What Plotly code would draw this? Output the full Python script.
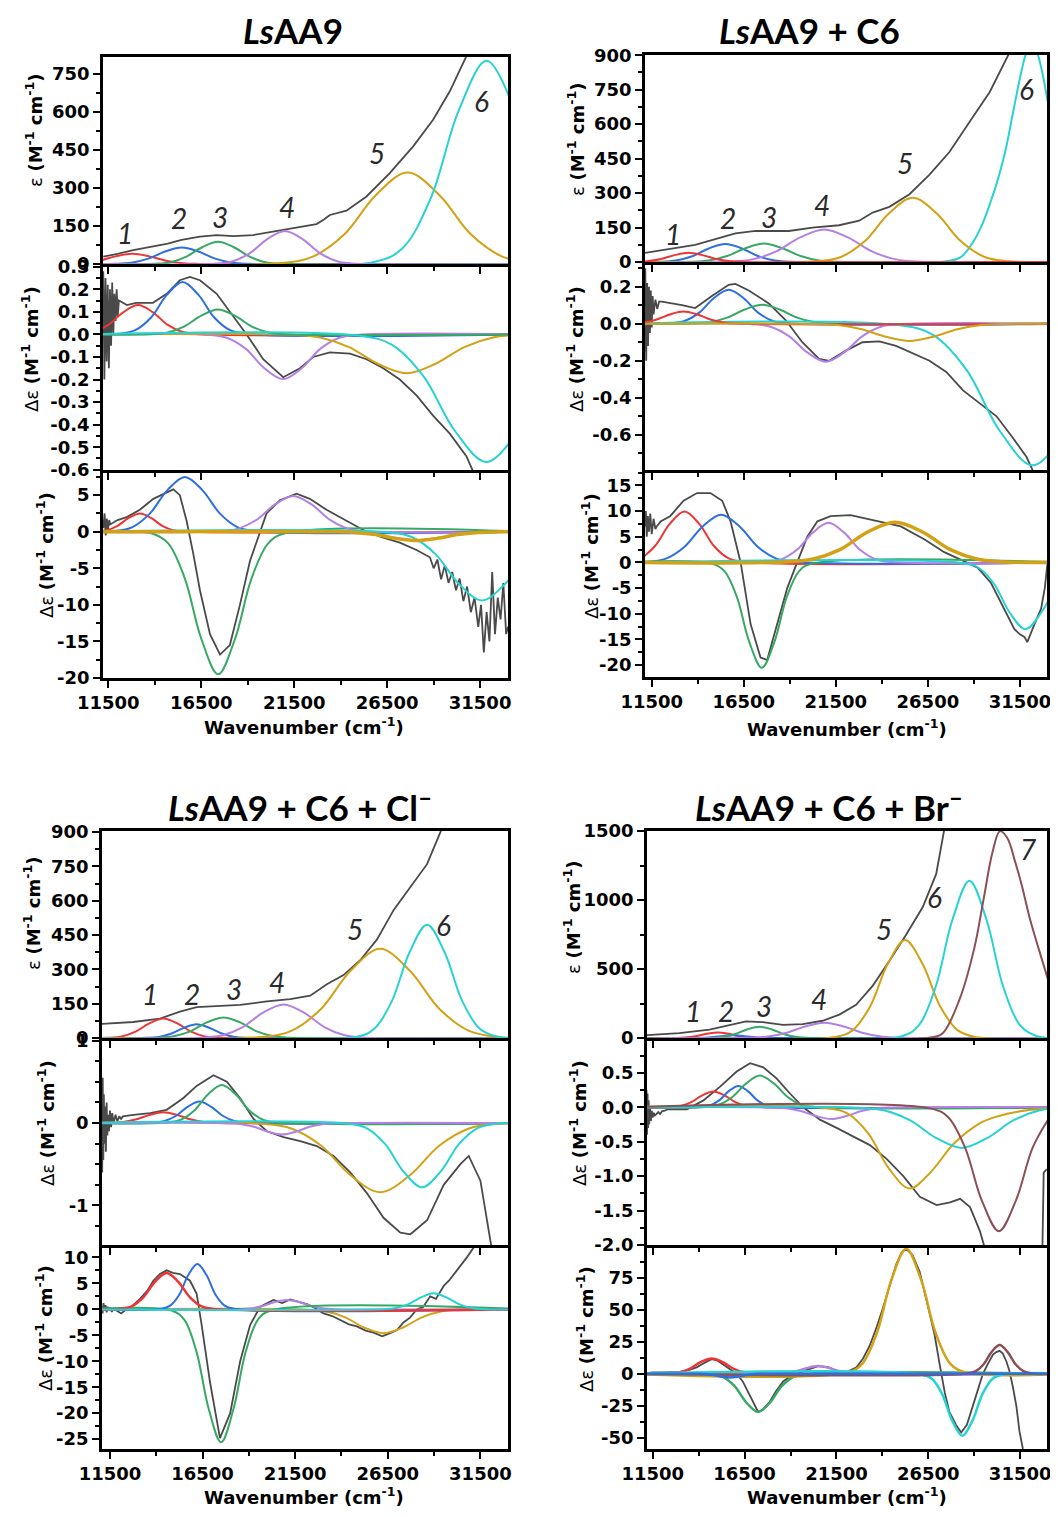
import plotly.graph_objects as go

W, H = 1058, 1517

# ---------------- LsAA9 (panel a) ----------------
# absorption, epsilon
a1_exp_x = [11230, 12000, 12840, 13900, 14700, 15440, 16430, 17330, 18220, 19300, 20200, 21000, 22000, 22700, 23100, 23420, 24310, 25390, 26640, 27900, 28970, 29870, 30760, 31500]
a1_exp_y = [29, 40, 55, 68, 80, 95, 108, 114, 110, 114, 125, 137, 147, 157, 175, 193, 210, 266, 358, 463, 568, 680, 818, 920]
a1_red_x = [9200, 10100, 11000, 11900, 12800, 13700, 14600, 15500, 16400, 34000]
a1_red_y = [0.4, 3.2, 13, 30, 40, 30, 13, 3.2, 0.4, 0]
a1_blue_x = [10000, 11850, 12750, 13650, 14550, 15450, 16350, 17250, 18150, 19050, 34000]
a1_blue_y = [0, 0.7, 5.2, 21, 49, 65, 49, 21, 5.2, 0.7, 0]
a1_green_x = [10000, 14000, 14850, 15700, 16550, 17400, 18250, 19100, 19950, 20800, 34000]
a1_green_y = [0, 1, 7, 29, 66, 88, 66, 29, 7, 1, 0]
a1_purple_x = [10000, 17200, 18150, 19100, 20050, 21000, 21950, 22900, 23850, 24800, 34000]
a1_purple_y = [0, 1.4, 10, 42, 98, 130, 98, 42, 10, 1.4, 0]
a1_gold_x = [10000, 20800, 22500, 24200, 25900, 27600, 29300, 31000, 32700, 34400]
a1_gold_y = [0, 4, 29, 117, 272, 360, 272, 117, 29, 4]
a1_cyan_x = [10000, 25850, 27350, 28850, 30350, 31850, 33350]
a1_cyan_y = [0, 9, 64, 260, 604, 800, 604]
a1_lab_x = [12400, 15300, 17500, 21090, 25930, 31570]
a1_lab_y = [121, 180, 187, 226, 437, 641]
a1_yticks = [0, 150, 300, 450, 600, 750]

# CD
a2_exp_x = [11230, 11290, 11350, 11410, 11470, 11530, 11590, 11650, 11710, 11770, 11830, 11890, 11950, 12010, 12070,
            12500, 13000, 13900, 14640, 15350, 15890, 16430, 17330, 18220, 18940, 19830, 20910, 21810, 22520, 23420,
            24500, 25390, 26290, 27180, 28080, 28970, 29870, 30760, 31120, 31300]
a2_exp_y = [0.28, -0.2, 0.25, -0.12, 0.22, -0.15, 0.2, -0.05, 0.23, 0.0, 0.18, 0.06, 0.2, 0.08, 0.15,
            0.13, 0.14, 0.14, 0.18, 0.24, 0.255, 0.24, 0.18, 0.08, 0.0, -0.11, -0.19, -0.15, -0.1, -0.08,
            -0.085, -0.11, -0.15, -0.2, -0.27, -0.36, -0.44, -0.54, -0.6, -0.64]
a2_red_x = [9900, 10700, 11500, 12300, 13100, 13900, 14700, 15500, 16300, 34000]
a2_red_y = [0.0014, 0.0104, 0.042, 0.098, 0.13, 0.098, 0.042, 0.0104, 0.0014, 0]
a2_blue_x = [10000, 12100, 12950, 13800, 14650, 15500, 16350, 17200, 18050, 18900, 34000]
a2_blue_y = [0, 0.0026, 0.0186, 0.075, 0.175, 0.232, 0.175, 0.075, 0.0186, 0.0026, 0]
a2_green_x = [10000, 13800, 14700, 15600, 16500, 17400, 18300, 19200, 20100, 21000, 34000]
a2_green_y = [0, 0.0012, 0.0088, 0.036, 0.083, 0.11, 0.083, 0.036, 0.0088, 0.0012, 0]
a2_purple_x = [10000, 16900, 17900, 18900, 19900, 20900, 21900, 22900, 23900, 24900, 34000]
a2_purple_y = [0, -0.0022, -0.016, -0.064, -0.15, -0.198, -0.15, -0.064, -0.016, -0.0022, 0]
a2_gold_x = [10000, 21350, 22900, 24450, 26000, 27550, 29100, 30650, 32200, 33750]
a2_gold_y = [0, -0.0019, -0.0138, -0.056, -0.13, -0.172, -0.13, -0.056, -0.0138, -0.0019]
a2_cyan_x = [10000, 25040, 26740, 28440, 30140, 31840, 33540]
a2_cyan_y = [0, -0.0062, -0.045, -0.184, -0.427, -0.565, -0.427]
a2_yticks = [-0.6, -0.5, -0.4, -0.3, -0.2, -0.1, 0.0, 0.1, 0.2, 0.3]

# MCD
a3_exp_x = [11230, 11300, 11360, 11420, 11480, 11550, 11600, 12000, 12490, 13200, 13920, 14640, 15000, 15350, 15710,
            16070, 16430, 16970, 17510, 18040, 18580, 19120, 19650, 20010, 20730, 21630, 22340, 23240, 24310, 25390,
            26290, 27180, 28080, 28800, 29000, 29200, 29400, 29600, 29800, 30000, 30200, 30400, 30600, 30800, 31000,
            31200, 31400, 31550, 31700, 31850, 32000, 32150, 32300, 32450, 32600, 32750, 32900, 33000]
a3_exp_y = [0.5, 2.5, -0.5, 1.8, 0.3, 1.6, 1.0, 1.6, 2.0, 3.0, 4.5, 5.3, 5.8, 5.0, 1.5,
            -3, -8, -14, -16.8, -15.5, -10, -4, 0, 2.5, 4.3, 5.2, 4.5, 3.0, 1.5, 0,
            -0.8, -1.5, -2.5, -3.5, -5, -3.8, -6.5, -4.6, -7, -5.5, -8, -6.4, -9.5, -7.5, -11,
            -9, -13, -10, -16.5, -11, -15, -5.5, -14, -9, -12, -7, -14, -13]
a3_red_x = [10800, 11400, 12000, 12600, 13200, 13800, 14400, 15000, 15600, 34000]
a3_red_y = [0.03, 0.2, 0.81, 1.89, 2.5, 1.89, 0.81, 0.2, 0.03, 0]
a3_blue_x = [10000, 11820, 12770, 13720, 14670, 15620, 16570, 17520, 18470, 19420, 34000]
a3_blue_y = [0, 0.08, 0.6, 2.44, 5.66, 7.5, 5.66, 2.44, 0.6, 0.08, 0]
a3_green_x = [10000, 13810, 14710, 15610, 16510, 17410, 18310, 19210, 20110, 21010, 34000]
a3_green_y = [0, -0.21, -1.56, -6.34, -14.7, -19.5, -14.7, -6.34, -1.56, -0.21, 0]
a3_purple_x = [10000, 17450, 18450, 19450, 20450, 21450, 22450, 23450, 24450, 25450, 34000]
a3_purple_y = [0, 0.05, 0.39, 1.59, 3.7, 4.9, 3.7, 1.59, 0.39, 0.05, 0]
a3_cyan_x = [10000, 26600, 27850, 29100, 30350, 31600, 32850, 34100]
a3_cyan_y = [0, -0.1, -0.75, -3.06, -7.1, -9.4, -7.1, -3.06]
a3_gold_x = [10000, 23680, 24780, 25880, 26980, 28080, 29180, 30280, 31380, 32480, 34000]
a3_gold_y = [0, -0.013, -0.1, -0.39, -0.91, -1.2, -0.91, -0.39, -0.1, -0.013, 0]
a3_yticks = [-20, -15, -10, -5, 0, 5]

# ---------------- LsAA9 + C6 (panel b) ----------------
b1_exp_x = [11140, 12410, 13860, 14950, 16050, 17140, 18950, 20230, 21680, 22770, 23500, 24410, 25500, 26590, 27680, 28770, 29860, 30860, 31500]
b1_exp_y = [40, 55, 75, 100, 125, 135, 135, 150, 160, 180, 215, 240, 295, 380, 480, 610, 740, 900, 1000]
b1_red_x = [10500, 11250, 12000, 12750, 13500, 14250, 15000, 15750, 16500, 34000]
b1_red_y = [0.4, 3.2, 13, 30, 40, 30, 13, 3.2, 0.4, 0]
b1_blue_x = [10000, 11900, 12800, 13700, 14600, 15500, 16400, 17300, 18200, 19100, 34000]
b1_blue_y = [0, 0.9, 6.2, 25, 59, 78, 59, 25, 6.2, 0.9, 0]
b1_green_x = [10000, 13590, 14590, 15590, 16590, 17590, 18590, 19590, 20590, 21590, 34000]
b1_green_y = [0, 0.9, 6.4, 26, 60, 80, 60, 26, 6.4, 0.9, 0]
b1_purple_x = [10000, 15660, 16960, 18260, 19560, 20860, 22160, 23460, 24760, 26060, 34000]
b1_purple_y = [0, 1.6, 11.4, 46, 107, 142, 107, 46, 11.4, 1.6, 0]
b1_gold_x = [10000, 20480, 21780, 23080, 24380, 25680, 26980, 28280, 29580, 30880, 34000]
b1_gold_y = [0, 3.1, 22, 91, 211, 280, 211, 91, 22, 3.1, 0]
b1_cyan_x = [10000, 27500, 28300, 28900, 29400, 29900, 30300, 30700, 31100, 31500, 31800, 32100, 32400, 32700, 33000]
b1_cyan_y = [0, 3, 22, 80, 154, 260, 359, 480, 640, 800, 900, 960, 920, 830, 700]
b1_lab_x = [12680, 15650, 17860, 20770, 25230, 31860]
b1_lab_y = [124, 190, 198, 249, 432, 754]
b1_yticks = [0, 150, 300, 450, 600, 750, 900]

b2_exp_x = [11050, 11100, 11150, 11200, 11250, 11300, 11350, 11400, 11450, 11500, 11550, 11600, 11700, 11800, 11900, 12050,
            13140, 13860, 14770, 15680, 16050, 16770, 17860, 18770, 19680, 20590, 21140, 22050, 22950, 23860, 24770,
            25680, 26590, 27500, 28410, 29320, 30230, 31140, 31860, 32230]
b2_exp_y = [0.28, -0.15, 0.3, -0.2, 0.22, -0.12, 0.2, -0.05, 0.18, -0.02, 0.15, 0.05, 0.13, 0.08, 0.12, 0.12,
            0.1, 0.085, 0.15, 0.21, 0.215, 0.18, 0.11, 0.02, -0.1, -0.19, -0.2, -0.145, -0.1, -0.095, -0.12,
            -0.16, -0.2, -0.26, -0.36, -0.43, -0.5, -0.62, -0.72, -0.8]
b2_red_x = [10230, 10980, 11730, 12480, 13230, 13980, 14730, 15480, 16230, 34000]
b2_red_y = [0.0007, 0.0053, 0.0215, 0.05, 0.066, 0.05, 0.0215, 0.0053, 0.0007, 0]
b2_blue_x = [10000, 12480, 13280, 14080, 14880, 15680, 16480, 17280, 18080, 18880, 34000]
b2_blue_y = [0, 0.002, 0.0147, 0.06, 0.139, 0.184, 0.139, 0.06, 0.0147, 0.002, 0]
b2_green_x = [10000, 13700, 14650, 15600, 16550, 17500, 18450, 19400, 20350, 21300, 34000]
b2_green_y = [0, 0.0011, 0.0082, 0.033, 0.077, 0.102, 0.077, 0.033, 0.0082, 0.0011, 0]
b2_purple_x = [10000, 16950, 17950, 18950, 19950, 20950, 21950, 22950, 23950, 24950, 34000]
b2_purple_y = [0, -0.0023, -0.0164, -0.067, -0.155, -0.205, -0.155, -0.067, -0.0164, -0.0023, 0]
b2_cyan_x = [10000, 25000, 26800, 28600, 30400, 32200, 34000]
b2_cyan_y = [0, -0.0084, -0.061, -0.249, -0.578, -0.765, -0.578]
b2_gold_x = [10000, 20300, 21600, 22900, 24200, 25500, 26800, 28100, 29400, 30700, 34000]
b2_gold_y = [0, -0.001, -0.0074, -0.03, -0.07, -0.093, -0.07, -0.03, -0.0074, -0.001, 0]
b2_yticks = [-0.6, -0.4, -0.2, 0.0, 0.2]

b3_exp_x = [11130, 11180, 11230, 11290, 11350, 11420, 11500, 11600, 11700, 11770, 12000, 12500, 13230, 13960, 14690,
            15330, 15780, 16330, 16870, 17410, 17770, 18310, 18860, 19400, 19950, 20500, 21220, 22300, 23390, 24480,
            25030, 26300, 27390, 28480, 29200, 29930, 30660, 31200, 31500, 31740, 31900, 32100, 32290, 32650, 32850, 33000]
b3_exp_y = [7, 10, 5, 9, 6, 9.5, 5.5, 8.5, 6.5, 7, 8, 9, 12, 13.5, 13.5,
            12, 8, 0, -12, -18.5, -19, -12, -5, 0, 5, 8, 9, 9.2, 8.3, 7.5,
            7, 4.5, 2, 0.2, -1, -4, -9, -13, -14, -14.5, -15.5, -13.5, -12, -9, -5, 0]
b3_red_x = [10080, 10880, 11680, 12480, 13280, 14080, 14880, 15680, 16480, 34000]
b3_red_y = [0.11, 0.79, 3.2, 7.5, 9.9, 7.5, 3.2, 0.79, 0.11, 0]
b3_blue_x = [10000, 11270, 12270, 13270, 14270, 15270, 16270, 17270, 18270, 19270, 34000]
b3_blue_y = [0, 0.1, 0.74, 3.0, 7.0, 9.3, 7.0, 3.0, 0.74, 0.1, 0]
b3_green_x = [10000, 14760, 15440, 16120, 16800, 17480, 18160, 18840, 19520, 20200, 34000]
b3_green_y = [0, -0.23, -1.64, -6.66, -15.5, -20.5, -15.5, -6.66, -1.64, -0.23, 0]
b3_purple_x = [10000, 17700, 18550, 19400, 20250, 21100, 21950, 22800, 23650, 24500, 34000]
b3_purple_y = [0, 0.08, 0.62, 2.5, 5.8, 7.7, 5.8, 2.5, 0.62, 0.08, 0]
b3_cyan_x = [10000, 28400, 29250, 30100, 30950, 31800, 32650, 33500]
b3_cyan_y = [0, -0.14, -1.04, -4.2, -9.8, -13, -9.8, -4.2]
b3_gold_x = [10000, 18720, 20220, 21720, 23220, 24720, 26220, 27720, 29220, 30720, 34000]
b3_gold_y = [0, 0.09, 0.62, 2.5, 5.9, 7.8, 5.9, 2.5, 0.62, 0.09, 0]
b3_yticks = [-20, -15, -10, -5, 0, 5, 10, 15]

# ---------------- LsAA9 + C6 + Cl- (panel c) ----------------
c1_exp_x = [11050, 12760, 14200, 15280, 16180, 17270, 18530, 19970, 21230, 22310, 23210, 24110, 25010, 25910, 26820, 27720, 28620, 29340, 29800]
c1_exp_y = [62, 70, 85, 115, 135, 140, 145, 160, 170, 185, 235, 275, 340, 430, 560, 660, 760, 900, 980]
c1_red_x = [10000, 11380, 12130, 12880, 13630, 14380, 15130, 15880, 16630, 17380, 34000]
c1_red_y = [0, 0.9, 6.8, 28, 64, 85, 64, 28, 6.8, 0.9, 0]
c1_blue_x = [10000, 13460, 14140, 14820, 15500, 16180, 16860, 17540, 18220, 18900, 34000]
c1_blue_y = [0, 0.66, 4.8, 19.5, 45, 60, 45, 19.5, 4.8, 0.66, 0]
c1_green_x = [10000, 14030, 14930, 15830, 16730, 17630, 18530, 19430, 20330, 21230, 34000]
c1_green_y = [0, 1, 7.2, 29, 68, 90, 68, 29, 7.2, 1, 0]
c1_purple_x = [10000, 16470, 17570, 18670, 19770, 20870, 21970, 23070, 24170, 25270, 34000]
c1_purple_y = [0, 1.6, 11.8, 48, 111, 147, 111, 48, 11.8, 1.6, 0]
c1_gold_x = [10000, 19690, 21290, 22890, 24490, 26090, 27690, 29290, 30890, 32490, 34000]
c1_gold_y = [0, 4.3, 31, 127, 294, 390, 294, 127, 31, 4.3, 0]
c1_cyan_x = [10000, 24820, 25770, 26720, 27670, 28620, 29570, 30520, 31470, 32420, 34000]
c1_cyan_y = [0, 5.4, 40, 161, 374, 495, 374, 161, 40, 5.4, 0]
c1_lab_x = [13660, 15910, 18170, 20510, 24740, 29520]
c1_lab_y = [191, 191, 213, 243, 478, 493]
c1_yticks = [0, 150, 300, 450, 600, 750, 900]

c2_exp_x = [11050, 11080, 11110, 11140, 11170, 11200, 11240, 11280, 11320, 11360, 11400, 11450, 11500, 11560, 11620,
            11700, 11800, 11900, 12000, 12100, 12200, 12400, 12760, 13660, 14560, 15450, 16180, 17090, 17810, 18530,
            19250, 19970, 20870, 21770, 22670, 23570, 24470, 25370, 26270, 27180, 27720, 28620, 29520, 30420, 30870,
            31500, 31860, 32130]
c2_exp_y = [0.1, -0.6, 0.55, -0.45, 0.35, -0.25, 0.2, -0.35, 0.25, -0.15, 0.1, -0.1, 0.15, -0.05, 0.12,
            0.0, 0.1, 0.02, 0.08, 0.05, 0.08, 0.09, 0.1, 0.12, 0.16, 0.3, 0.45, 0.58, 0.5, 0.3,
            0.05, -0.1, -0.17, -0.22, -0.28, -0.4, -0.6, -0.85, -1.15, -1.33, -1.35, -1.18, -0.75, -0.5, -0.4,
            -0.7, -1.2, -1.55]
c2_red_x = [10000, 11380, 12130, 12880, 13630, 14380, 15130, 15880, 16630, 17380, 34000]
c2_red_y = [0, 0.0014, 0.0104, 0.042, 0.098, 0.13, 0.098, 0.042, 0.0104, 0.0014, 0]
c2_blue_x = [10000, 13770, 14410, 15050, 15690, 16330, 16970, 17610, 18250, 18890, 34000]
c2_blue_y = [0, 0.0029, 0.021, 0.085, 0.196, 0.26, 0.196, 0.085, 0.021, 0.0029, 0]
c2_green_x = [10000, 14540, 15290, 16040, 16790, 17540, 18290, 19040, 19790, 20540, 34000]
c2_green_y = [0, 0.005, 0.037, 0.15, 0.347, 0.46, 0.347, 0.15, 0.037, 0.005, 0]
c2_gold_x = [10000, 19690, 21290, 22890, 24490, 26090, 27690, 29290, 30890, 32490, 34000]
c2_gold_y = [0, -0.009, -0.067, -0.273, -0.634, -0.84, -0.634, -0.273, -0.067, -0.009, 0]
c2_purple_x = [10000, 17780, 18530, 19280, 20030, 20780, 21530, 22280, 23030, 23780, 34000]
c2_purple_y = [0, -0.0015, -0.011, -0.046, -0.106, -0.14, -0.106, -0.046, -0.011, -0.0015, 0]
c2_cyan_x = [10000, 24350, 25350, 26350, 27350, 28350, 29350, 30350, 31350, 32350, 34000]
c2_cyan_y = [0, -0.0086, -0.062, -0.254, -0.589, -0.78, -0.589, -0.254, -0.062, -0.0086, 0]
c2_yticks = [-1, 0, 1]

c3_exp_x = [11050, 11100, 11150, 11200, 11260, 11320, 11380, 11450, 11520, 11600, 11700, 11860, 12100, 12400, 12700,
            13120, 13500, 13840, 14200, 14560, 14900, 15280, 15550, 15820, 16180, 16450, 16900, 17440, 17990, 18530,
            19070, 19610, 20330, 20800, 21230, 21700, 22130, 22600, 23030, 23500, 23930, 24400, 24830, 25300, 25730,
            26200, 26630, 27000, 27360, 27700, 28070, 28400, 28790, 29100, 29520, 29800, 30230, 30500, 30770, 31140]
c3_exp_y = [0.5, -0.8, 1.2, -0.3, 0.8, -0.6, 0.5, -0.2, 0.3, -0.5, 0.1, -0.3, -0.8, 0, 0.6,
            2, 3.5, 5.5, 6.8, 7.5, 7.0, 6.8, 6.2, 5.5, 3, -3, -14, -24.8, -20, -10,
            -3, 0.5, 1.8, 1.2, 1.9, 1.4, 1.0, 0.2, -0.8, -1.3, -2, -2.9, -3.3, -4.1, -4.5,
            -5.2, -4.6, -4, -2.5, -1.6, 0, 0.4, 2.5, 2, 4.5, 5.5, 7.5, 8.7, 10, 11.9]
c3_red_x = [10000, 12040, 12670, 13300, 13930, 14560, 15190, 15820, 16450, 17080, 34000]
c3_red_y = [0, 0.08, 0.56, 2.3, 5.3, 7.0, 5.3, 2.3, 0.56, 0.08, 0]
c3_blue_x = [10000, 14260, 14750, 15240, 15730, 16220, 16710, 17200, 17690, 18180, 34000]
c3_blue_y = [0, 0.1, 0.7, 2.8, 6.6, 8.7, 6.6, 2.8, 0.7, 0.1, 0]
c3_green_x = [10000, 14860, 15520, 16180, 16840, 17500, 18160, 18820, 19480, 20140, 34000]
c3_green_y = [0, -0.28, -2.05, -8.3, -19.3, -25.6, -19.3, -8.3, -2.05, -0.28, 0]
c3_purple_x = [10000, 18330, 19010, 19690, 20370, 21050, 21730, 22410, 23090, 23770, 34000]
c3_purple_y = [0, 0.02, 0.14, 0.59, 1.36, 1.8, 1.36, 0.59, 0.14, 0.02, 0]
c3_gold_x = [10000, 22070, 23120, 24170, 25220, 26270, 27320, 28370, 29420, 30470, 34000]
c3_gold_y = [0, -0.05, -0.37, -1.5, -3.5, -4.6, -3.5, -1.5, -0.37, -0.05, 0]
c3_cyan_x = [10000, 26260, 26940, 27620, 28300, 28980, 29660, 30340, 31020, 31700, 34000]
c3_cyan_y = [0, 0.03, 0.25, 1.0, 2.3, 3.1, 2.3, 1.0, 0.25, 0.03, 0]
c3_yticks = [-25, -20, -15, -10, -5, 0, 5, 10]

# ---------------- LsAA9 + C6 + Br- (panel d) ----------------
d1_exp_x = [11140, 12950, 14590, 15680, 16580, 17490, 18580, 19670, 20750, 21660, 22570, 23480, 24390, 25300, 26200, 26930, 27380]
d1_exp_y = [20, 35, 60, 95, 120, 115, 95, 100, 125, 170, 240, 380, 560, 750, 950, 1190, 1520]
d1_red_x = [10000, 12640, 13240, 13840, 14440, 15040, 15640, 16240, 16840, 17440, 34000]
d1_red_y = [0, 0.44, 3.2, 13, 30, 40, 30, 13, 3.2, 0.44, 0]
d1_blue_x = [10000, 13780, 14300, 14820, 15340, 15860, 16380, 16900, 17420, 17940, 34000]
d1_blue_y = [0, 0.22, 1.6, 6.5, 15, 20, 15, 6.5, 1.6, 0.22, 0]
d1_green_x = [10000, 14590, 15270, 15950, 16630, 17310, 17990, 18670, 19350, 20030, 34000]
d1_green_y = [0, 0.9, 6.6, 27, 62, 82, 62, 27, 6.6, 0.9, 0]
d1_purple_x = [10000, 16650, 17700, 18750, 19800, 20850, 21900, 22950, 24000, 25050, 34000]
d1_purple_y = [0, 1.2, 8.8, 36, 83, 110, 83, 36, 8.8, 1.2, 0]
d1_gold_x = [10000, 21440, 22390, 23340, 24290, 25240, 26190, 27140, 28090, 29040, 34000]
d1_gold_y = [0, 7.8, 57, 231, 536, 710, 536, 231, 57, 7.8, 0]
d1_cyan_x = [10000, 25060, 25980, 26900, 27820, 28740, 29660, 30580, 31500, 32420, 34000]
d1_cyan_y = [0, 12.5, 91, 370, 861, 1140, 861, 370, 91, 12.5, 0]
d1_brown_x = [10000, 26700, 27300, 28200, 29000, 29500, 30000, 30400, 30800, 31200, 31600, 32000, 32500, 33000]
d1_brown_y = [0, 5, 37, 280, 650, 1000, 1350, 1500, 1450, 1290, 1100, 880, 650, 430]
d1_lab_x = [13680, 15500, 17580, 20570, 24110, 26830, 31920]
d1_lab_y = [197, 197, 234, 283, 788, 1022, 1367]
d1_yticks = [0, 500, 1000, 1500]

d2_exp_x = [11100, 11130, 11160, 11190, 11220, 11250, 11280, 11310, 11350, 11400, 11450, 11500, 11560, 11620, 11700,
            11800, 11900, 12000, 12150, 12300, 13360, 14260, 15170, 16070, 16800, 17520, 18240, 18970, 19690, 20600,
            21510, 22420, 23320, 24230, 25140, 26040, 26950, 27680, 28230, 28770, 29310, 29580, 32650, 32780, 32950]
d2_exp_y = [-0.15, -0.35, 0.25, -0.4, 0.2, -0.3, 0.1, -0.25, 0.0, -0.2, -0.05, -0.15, -0.08, -0.12, -0.1,
            -0.07, -0.1, -0.06, -0.05, -0.03, -0.03, 0.1, 0.3, 0.52, 0.64, 0.58, 0.42, 0.2, 0.0, -0.18,
            -0.3, -0.42, -0.55, -0.75, -1.0, -1.3, -1.42, -1.38, -1.33, -1.45, -1.8, -2.05, -3, -0.95, -0.9]
d2_red_x = [10000, 12400, 13000, 13600, 14200, 14800, 15400, 16000, 16600, 17200, 34000]
d2_red_y = [0, 0.0025, 0.018, 0.075, 0.174, 0.23, 0.174, 0.075, 0.018, 0.0025, 0]
d2_blue_x = [10000, 14080, 14600, 15120, 15640, 16160, 16680, 17200, 17720, 18240, 34000]
d2_blue_y = [0, 0.0034, 0.025, 0.1, 0.234, 0.31, 0.234, 0.1, 0.025, 0.0034, 0]
d2_green_x = [10000, 14340, 15090, 15840, 16590, 17340, 18090, 18840, 19590, 20340, 34000]
d2_green_y = [0, 0.005, 0.037, 0.15, 0.347, 0.46, 0.347, 0.15, 0.037, 0.005, 0]
d2_purple_x = [10000, 17930, 18750, 19570, 20390, 21210, 22030, 22850, 23670, 24490, 34000]
d2_purple_y = [0, -0.0019, -0.0136, -0.055, -0.128, -0.17, -0.128, -0.055, -0.0136, -0.0019, 0]
d2_gold_x = [10000, 21000, 22120, 23240, 24360, 25480, 26600, 27920, 29320, 30160, 31070, 31980, 33000]
d2_gold_y = [0, -0.013, -0.094, -0.384, -0.891, -1.18, -0.95, -0.52, -0.23, -0.14, -0.08, -0.04, -0.02]
d2_cyan_x = [10000, 22720, 24120, 25520, 26920, 28320, 29720, 31120, 32520, 33920]
d2_cyan_y = [0, -0.0065, -0.047, -0.192, -0.445, -0.59, -0.445, -0.192, -0.047, -0.0065]
d2_brown_x = [10000, 26660, 27580, 28500, 29420, 30340, 31260, 32180, 33100]
d2_brown_y = [0, -0.02, -0.144, -0.585, -1.36, -1.8, -1.36, -0.585, -0.144]
d2_yticks = [-2.0, -1.5, -1.0, -0.5, 0.0, 0.5]

d3_exp_x = [11170, 11500, 12000, 12500, 12990, 13500, 13890, 14300, 14710, 15000, 15340, 15700, 16060, 16400, 16790,
            17000, 17240, 17500, 17870, 18200, 18600, 19000, 19330, 19900, 20500, 21100, 21680, 22100, 22590, 22950,
            23310, 23700, 24040, 24400, 24760, 25050, 25300, 25650, 26030, 26300, 26570, 26850, 27110, 27400, 27650,
            28000, 28290, 28600, 28930, 29200, 29470, 29750, 30020, 30200, 30380, 30550, 30740, 30900, 31100, 31300,
            31460, 31650]
d3_exp_y = [0.5, 1, 1, 1.5, 1.5, 3, 5, 8.5, 11.5, 10.5, 7, 3, 0, -6, -17,
            -24, -30, -28, -22, -14, -6, -2, 0, 3, 6, 5, 1, 1.5, 5, 12,
            22, 37, 52, 70, 86, 95, 98, 93, 80, 64, 48, 30, 8, -15, -30,
            -40, -46, -40, -25, -12, 0, 8, 15, 17, 18, 16, 10, 3, -10, -26,
            -45, -59]
d3_red_x = [10000, 12310, 12910, 13510, 14110, 14710, 15310, 15910, 16510, 17110, 34000]
d3_red_y = [0, 0.13, 0.96, 3.9, 9.1, 12, 9.1, 3.9, 0.96, 0.13, 0]
d3_green_x = [10000, 14680, 15320, 15960, 16600, 17240, 17880, 18520, 19160, 19800, 34000]
d3_green_y = [0, -0.33, -2.4, -9.75, -22.6, -30, -22.6, -9.75, -2.4, -0.33, 0]
d3_purple_x = [10000, 18100, 18700, 19300, 19900, 20500, 21100, 21700, 22300, 22900, 34000]
d3_purple_y = [0, 0.07, 0.48, 1.95, 4.5, 6, 4.5, 1.95, 0.48, 0.07, 0]
d3_gold_x = [10000, 22100, 22900, 23700, 24500, 25300, 26100, 26900, 27700, 28500, 34000]
d3_gold_y = [0, 1.1, 7.8, 32, 74, 98, 74, 32, 7.8, 1.1, 0]
d3_cyan_x = [10000, 26150, 26700, 27250, 27800, 28350, 28900, 29450, 30000, 30550, 34000]
d3_cyan_y = [0, -0.54, -3.9, -15.8, -36.8, -48.7, -36.8, -15.8, -3.9, -0.54, 0]
d3_brown_x = [10000, 28620, 29060, 29500, 29940, 30380, 30820, 31260, 31700, 32140, 34000]
d3_brown_y = [0, 0.25, 1.8, 7.3, 17, 22.5, 17, 7.3, 1.8, 0.25, 0]
d3_blue_x = [10000, 13900, 14350, 14800, 15250, 15700, 16150, 16600, 17050, 17500, 34000]
d3_blue_y = [0, -0.03, -0.24, -0.98, -2.27, -3, -2.27, -0.98, -0.24, -0.03, 0]
d3_yticks = [-50, -25, 0, 25, 50, 75]

x_ticks = [11500, 16500, 21500, 26500, 31500]

# ---------------- styling ----------------
# the page body keeps its default 8px margin, so the figure starts 8px in
OFF = 8
FW, FH = W - OFF, H - 2 * OFF


def px_x(px):
    return (px - OFF) / FW


def px_y(py):
    return 1 - (py - OFF) / FH


COL = dict(exp="#4a4a4a", red="#ee3535", blue="#2d6fe2", green="#38a865", purple="#b480e4",
           gold="#d2a116", cyan="#26d2d2", brown="#8b5054")
AXFONT = "DejaVu Sans"
EPS = "ε <b>(M<sup>-1</sup> cm<sup>-1</sup>)</b>"
DEPS = "Δε <b>(M<sup>-1</sup> cm<sup>-1</sup>)</b>"
LW = 2.5  # frame line width

# xt: (x centre, y centre) of the x title; "bottom" pins the lower panels to the figure edge
PANELS = [
    dict(x0=103, x1=508, xr=[11215, 33000], rows=[(57, 264), (264, 470), (470, 678)],
         title="<b><i>Ls</i>AA9</b>", tpos=(293, 30), xt=(304, 726)),
    dict(x0=645, x1=1047, xr=[11135, 32970], rows=[(55, 262), (262, 470), (470, 677)],
         title="<b><i>Ls</i>AA9 + C6</b>", tpos=(809, 30), xt=(847, 728)),
    dict(x0=102, x1=508, xr=[11070, 32990], rows=[(831, 1038), (1038, 1245), (1245, 1449)],
         title="<b><i>Ls</i>AA9 + C6 + Cl<sup>–</sup></b>", tpos=(300, 805), xt=(304, "bottom")),
    dict(x0=647, x1=1047, xr=[11190, 32960], rows=[(831, 1038), (1038, 1245), (1245, 1449)],
         title="<b><i>Ls</i>AA9 + C6 + Br<sup>–</sup></b>", tpos=(829, 805), xt=(847, "bottom")),
]

SUBPLOTS = [
    dict(p=0, r=0, yr=[0, 815], ticks=a1_yticks, minor=75, fmt="{:.0f}", yt=EPS, ytp=(34, 130),
         labels=(a1_lab_x, a1_lab_y),
         curves=[(a1_exp_x, a1_exp_y, "exp", 1.8), (a1_red_x, a1_red_y, "red", 2), (a1_blue_x, a1_blue_y, "blue", 2),
                 (a1_green_x, a1_green_y, "green", 2), (a1_gold_x, a1_gold_y, "gold", 2),
                 (a1_cyan_x, a1_cyan_y, "cyan", 2), (a1_purple_x, a1_purple_y, "purple", 2)]),
    dict(p=0, r=1, yr=[-0.601, 0.301], ticks=a2_yticks, minor=0.05, fmt="{:.1f}", yt=DEPS, ytp=(30, 349),
         curves=[(a2_exp_x, a2_exp_y, "exp", 1.8), (a2_red_x, a2_red_y, "red", 2), (a2_blue_x, a2_blue_y, "blue", 2),
                 (a2_purple_x, a2_purple_y, "purple", 2), (a2_gold_x, a2_gold_y, "gold", 2),
                 (a2_green_x, a2_green_y, "green", 2), (a2_cyan_x, a2_cyan_y, "cyan", 2)]),
    dict(p=0, r=2, yr=[-20, 8.1], ticks=a3_yticks, minor=2.5, fmt="{:.0f}", yt=DEPS, ytp=(45, 555),
         curves=[(a3_exp_x, a3_exp_y, "exp", 1.8), (a3_red_x, a3_red_y, "red", 2), (a3_blue_x, a3_blue_y, "blue", 2),
                 (a3_green_x, a3_green_y, "green", 2), (a3_purple_x, a3_purple_y, "purple", 2),
                 (a3_cyan_x, a3_cyan_y, "cyan", 2), (a3_gold_x, a3_gold_y, "gold", 3.5)]),
    dict(p=1, r=0, yr=[0, 901], ticks=b1_yticks, minor=75, fmt="{:.0f}", yt=EPS, ytp=(576, 139),
         labels=(b1_lab_x, b1_lab_y),
         curves=[(b1_exp_x, b1_exp_y, "exp", 1.8), (b1_blue_x, b1_blue_y, "blue", 2), (b1_green_x, b1_green_y, "green", 2),
                 (b1_purple_x, b1_purple_y, "purple", 2), (b1_cyan_x, b1_cyan_y, "cyan", 2),
                 (b1_gold_x, b1_gold_y, "gold", 2), (b1_red_x, b1_red_y, "red", 2)]),
    dict(p=1, r=1, yr=[-0.79, 0.32], ticks=b2_yticks, minor=0.1, fmt="{:.1f}", yt=DEPS, ytp=(575, 349),
         curves=[(b2_exp_x, b2_exp_y, "exp", 1.8), (b2_blue_x, b2_blue_y, "blue", 2), (b2_green_x, b2_green_y, "green", 2),
                 (b2_purple_x, b2_purple_y, "purple", 2), (b2_cyan_x, b2_cyan_y, "cyan", 2),
                 (b2_red_x, b2_red_y, "red", 2), (b2_gold_x, b2_gold_y, "gold", 2)]),
    dict(p=1, r=2, yr=[-22.3, 17.5], ticks=b3_yticks, minor=2.5, fmt="{:.0f}", yt=DEPS, ytp=(590, 556),
         curves=[(b3_exp_x, b3_exp_y, "exp", 1.8), (b3_red_x, b3_red_y, "red", 2), (b3_blue_x, b3_blue_y, "blue", 2),
                 (b3_green_x, b3_green_y, "green", 2), (b3_purple_x, b3_purple_y, "purple", 2),
                 (b3_cyan_x, b3_cyan_y, "cyan", 2), (b3_gold_x, b3_gold_y, "gold", 3.5)]),
    dict(p=2, r=0, yr=[0, 905], ticks=c1_yticks, minor=75, fmt="{:.0f}", yt=EPS, ytp=(32, 913),
         labels=(c1_lab_x, c1_lab_y),
         curves=[(c1_exp_x, c1_exp_y, "exp", 1.8), (c1_red_x, c1_red_y, "red", 2), (c1_blue_x, c1_blue_y, "blue", 2),
                 (c1_green_x, c1_green_y, "green", 2), (c1_purple_x, c1_purple_y, "purple", 2),
                 (c1_gold_x, c1_gold_y, "gold", 2), (c1_cyan_x, c1_cyan_y, "cyan", 2)]),
    dict(p=2, r=1, yr=[-1.48, 1.001], ticks=c2_yticks, minor=0.25, fmt="{:.0f}", yt=DEPS, ytp=(46, 1123),
         curves=[(c2_exp_x, c2_exp_y, "exp", 1.8), (c2_red_x, c2_red_y, "red", 2), (c2_blue_x, c2_blue_y, "blue", 2),
                 (c2_green_x, c2_green_y, "green", 2), (c2_gold_x, c2_gold_y, "gold", 2),
                 (c2_purple_x, c2_purple_y, "purple", 2), (c2_cyan_x, c2_cyan_y, "cyan", 2)]),
    dict(p=2, r=2, yr=[-26.9, 11.9], ticks=c3_yticks, minor=2.5, fmt="{:.0f}", yt=DEPS, ytp=(44, 1328),
         curves=[(c3_exp_x, c3_exp_y, "exp", 1.8), (c3_gold_x, c3_gold_y, "gold", 2), (c3_purple_x, c3_purple_y, "purple", 2),
                 (c3_green_x, c3_green_y, "green", 2), (c3_blue_x, c3_blue_y, "blue", 2),
                 (c3_red_x, c3_red_y, "red", 2.5), (c3_cyan_x, c3_cyan_y, "cyan", 2)]),
    dict(p=3, r=0, yr=[0, 1501], ticks=d1_yticks, minor=250, fmt="{:.0f}", yt=EPS, ytp=(572, 917),
         labels=(d1_lab_x, d1_lab_y),
         curves=[(d1_exp_x, d1_exp_y, "exp", 1.8), (d1_red_x, d1_red_y, "red", 2), (d1_blue_x, d1_blue_y, "blue", 2),
                 (d1_green_x, d1_green_y, "green", 2), (d1_purple_x, d1_purple_y, "purple", 2),
                 (d1_gold_x, d1_gold_y, "gold", 2), (d1_cyan_x, d1_cyan_y, "cyan", 2),
                 (d1_brown_x, d1_brown_y, "brown", 2)]),
    dict(p=3, r=1, yr=[-2.001, 0.97], ticks=d2_yticks, minor=0.25, fmt="{:.1f}", yt=DEPS, ytp=(578, 1123),
         curves=[(d2_exp_x, d2_exp_y, "exp", 1.8), (d2_red_x, d2_red_y, "red", 2), (d2_blue_x, d2_blue_y, "blue", 2),
                 (d2_green_x, d2_green_y, "green", 2), (d2_purple_x, d2_purple_y, "purple", 2),
                 (d2_gold_x, d2_gold_y, "gold", 2), (d2_cyan_x, d2_cyan_y, "cyan", 2),
                 (d2_brown_x, d2_brown_y, "brown", 2)]),
    dict(p=3, r=2, yr=[-59, 99], ticks=d3_yticks, minor=12.5, fmt="{:.0f}", yt=DEPS, ytp=(585, 1329),
         curves=[(d3_exp_x, d3_exp_y, "exp", 1.8), (d3_red_x, d3_red_y, "red", 2.5), (d3_green_x, d3_green_y, "green", 2.5),
                 (d3_purple_x, d3_purple_y, "purple", 2.5), (d3_gold_x, d3_gold_y, "gold", 2.5),
                 (d3_cyan_x, d3_cyan_y, "cyan", 2.5), (d3_brown_x, d3_brown_y, "brown", 2.5),
                 (d3_blue_x, d3_blue_y, "blue", 2.5)]),
]

fig = go.Figure()
annotations = []
layout = {}
tickfont = dict(family=AXFONT, size=18, color="black", weight="bold")

for k, sp in enumerate(SUBPLOTS, start=1):
    s = "" if k == 1 else str(k)
    p = PANELS[sp["p"]]
    y0, y1 = p["rows"][sp["r"]]
    if sp["r"] > 0:
        y0 += LW  # let the shared frame lines sit on top of each other
    bottom = sp["r"] == 2

    layout["xaxis" + s] = dict(
        domain=[px_x(p["x0"]), px_x(p["x1"])], range=p["xr"], anchor="y" + s, automargin=False,
        showline=True, linewidth=LW, linecolor="black", mirror=True,
        ticks="outside", ticklen=7, tickwidth=2, tickcolor="black",
        tickmode="array", tickvals=x_ticks, ticktext=[str(v) for v in x_ticks],
        showticklabels=bottom, tickfont=tickfont, ticklabelstandoff=0, ticklabeloverflow="allow",
        minor=dict(ticks="outside", ticklen=4, tickwidth=1.5, tickcolor="black",
                   tickmode="linear", tick0=11500, dtick=2500),
        showgrid=False, zeroline=False,
    )
    layout["yaxis" + s] = dict(
        domain=[px_y(y1), px_y(y0)], range=sp["yr"], anchor="x" + s, automargin=False,
        showline=True, linewidth=LW, linecolor="black", mirror=True,
        ticks="outside", ticklen=7, tickwidth=2, tickcolor="black",
        tickmode="array", tickvals=sp["ticks"], ticktext=[sp["fmt"].format(v) for v in sp["ticks"]],
        tickfont=tickfont,
        minor=dict(ticks="outside", ticklen=4, tickwidth=1.5, tickcolor="black",
                   tickmode="linear", tick0=0, dtick=sp["minor"]),
        showgrid=False, zeroline=False,
    )

    for cx, cy, ckey, cw in sp["curves"]:
        shape = "linear" if ckey == "exp" else "spline"
        fig.add_trace(go.Scatter(
            x=cx, y=cy, mode="lines", xaxis="x" + s, yaxis="y" + s,
            line=dict(color=COL[ckey], width=cw, shape=shape),
            hoverinfo="skip", showlegend=False,
        ))

    # y axis title
    tx, ty = sp["ytp"]
    annotations.append(dict(
        text=sp["yt"], x=px_x(tx), y=px_y(ty), xref="paper", yref="paper",
        textangle=-90, showarrow=False, xanchor="center", yanchor="middle",
        font=dict(family=AXFONT, size=18, color="black"),
    ))

    # band numbers
    if "labels" in sp:
        lx, ly = sp["labels"]
        for i, (vx, vy) in enumerate(zip(lx, ly)):
            annotations.append(dict(
                text=str(i + 1), x=vx, y=vy, xref="x" + s, yref="y" + s, showarrow=False,
                font=dict(family="Lato", size=28, color="#2a2a2a", style="italic"),
            ))

for p in PANELS:
    annotations.append(dict(
        text=p["title"], x=px_x(p["tpos"][0]), y=px_y(p["tpos"][1]), xref="paper", yref="paper",
        showarrow=False, xanchor="center", yanchor="middle",
        font=dict(family="Lato", size=35, color="black"),
    ))
    xt_x, xt_y = p["xt"]
    if xt_y == "bottom":
        ypos, yanc = 0, "bottom"
    else:
        ypos, yanc = px_y(xt_y), "middle"
    annotations.append(dict(
        text="<b>Wavenumber (cm<sup>-1</sup>)</b>", x=px_x(xt_x), y=ypos,
        xref="paper", yref="paper", showarrow=False, xanchor="center", yanchor=yanc, borderpad=0,
        font=dict(family=AXFONT, size=18, color="black"),
    ))

fig.update_layout(
    width=FW, height=FH, margin=dict(l=0, r=0, t=0, b=0, pad=0, autoexpand=False),
    paper_bgcolor="white", plot_bgcolor="white", showlegend=False,
    annotations=annotations, **layout,
)

fig.write_html("out.html")
